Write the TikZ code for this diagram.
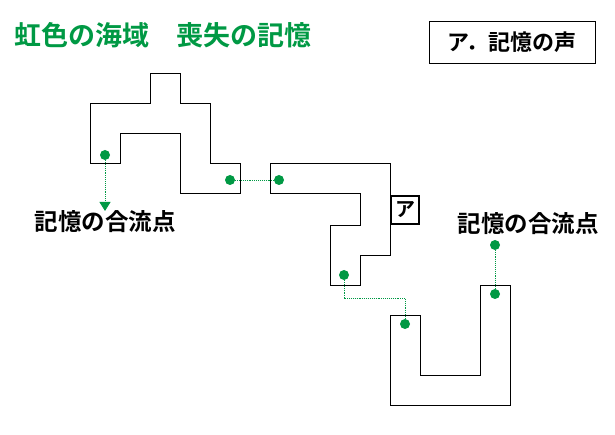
\documentclass[tikz,border=0pt]{standalone}
\usepackage{fontspec}
\newfontfamily\cjk{Noto Sans CJK JP}[BoldFont={Noto Sans CJK JP Bold}]
\usetikzlibrary{arrows.meta}
\definecolor{gr}{HTML}{009944}
\begin{document}
\begin{tikzpicture}[x=1pt,y=-1pt,
  room/.style={draw=black,line width=0.8pt},
  dot/.style={circle,fill=gr,inner sep=0pt,minimum size=10pt},
  link/.style={draw=gr,densely dotted,line width=0.9pt},
  lab/.style={font=\cjk\bfseries\fontsize{23.5}{23.5}\selectfont,inner sep=0pt}]
\useasboundingbox (0,0) rectangle (615,435);
\node[lab,text=gr,anchor=west,font=\cjk\bfseries\fontsize{27}{27}\selectfont] (title) at (14,35) {虹色の海域　喪失の記憶};
\node[lab,draw,line width=0.8pt,minimum width=166pt,minimum height=42pt,font=\cjk\bfseries\fontsize{22}{22}\selectfont] (key) at (512,42.5) {ア．記憶の声};
\draw[room] (90,103)--(150,103)--(150,73)--(180,73)--(180,103)--(210,103)--(210,163)--(240,163)--(240,193)--(180,193)--(180,133)--(120,133)--(120,163)--(90,163)--cycle;
\draw[room] (270,163)--(390,163)--(390,255)--(360,255)--(360,285)--(330,285)--(330,225)--(360,225)--(360,193)--(270,193)--cycle;
\draw[room] (390,315)--(420,315)--(420,375)--(480,375)--(480,285)--(510,285)--(510,405)--(390,405)--cycle;
\node[dot] (d1) at (105,155) {};
\node[dot] (d2) at (230,180) {};
\node[dot] (d3) at (279,180) {};
\node[dot] (d4) at (344,275) {};
\node[dot] (d5) at (405,324) {};
\node[dot] (d6) at (495,294) {};
\node[dot] (d7) at (495,245) {};
\coordinate (a1) at (105,211);
\draw[link,-{Triangle[length=9pt,width=11pt]}] (d1)--(a1);
\draw[link] (d2)--(d3);
\draw[link] (d4)--(344,298)-|(d5);
\draw[link] (d6)--(d7);
\node[lab] (m1) at (105,222) {記憶の合流点};
\node[lab] (m2) at (528,224) {記憶の合流点};
\node[lab,draw,line width=1.8pt,minimum size=28pt,inner sep=0pt,font=\cjk\bfseries\fontsize{20}{20}\selectfont] (ka) at (405,210) {ア};
\end{tikzpicture}
\end{document}
